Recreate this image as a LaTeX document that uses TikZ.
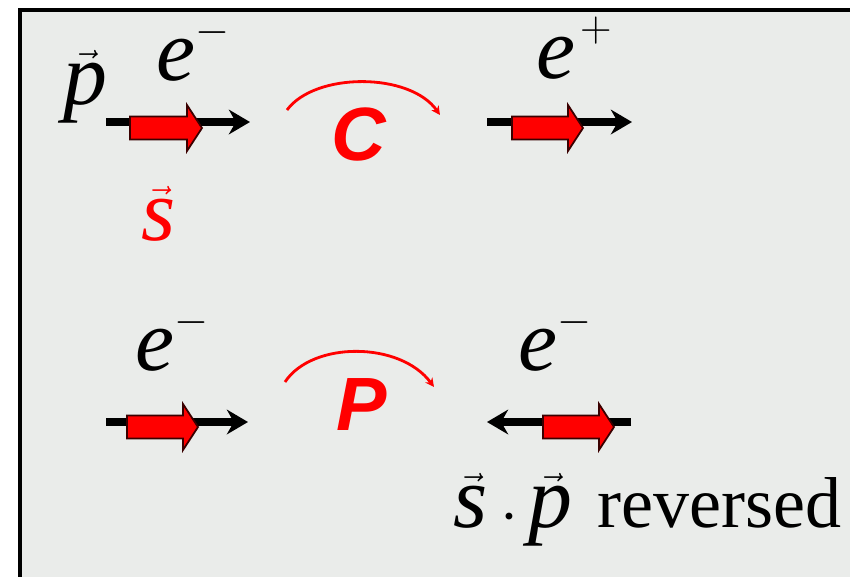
\documentclass[tikz,border=0pt]{standalone}
\usepackage{amsmath}
\usepackage{fontspec}
\usepackage{tikz}
\usetikzlibrary{arrows.meta, calc}
\setmainfont{Liberation Serif}
\setsansfont{Liberation Sans}
\definecolor{Panel_Gray}{HTML}{EAECEA}
\definecolor{Spin_Red}{HTML}{FF0000}
\definecolor{Spin_Edge}{HTML}{3A0000}
\newcommand{\ital}[1]{\text{\itshape #1}}
\newcommand{\chg}[1]{^{\raisebox{0.14em}{$\scriptstyle#1$}}}

\begin{document}
\begin{tikzpicture}[x=0.02cm, y=-0.02cm,
  mom/.style={line width=5pt, black, -{Stealth[length=12pt, width=14pt]}},
  spin/.style={fill=Spin_Red, draw=Spin_Edge, line width=1pt, line join=miter},
  swap/.style={Spin_Red, line width=1.6pt, -{Stealth[length=5pt, width=5pt]}},
  sym/.style={inner sep=0pt, anchor=base west, font=\fontsize{50}{56}\selectfont},
  op/.style={Spin_Red, inner sep=0pt, font=\sffamily\bfseries\itshape\fontsize{43}{48}\selectfont}
]
  \useasboundingbox (0,0) rectangle (850,576);
  \clip (0,0) rectangle (850,576);
  \fill[white] (0,0) rectangle (850,576);
  % panel
  \filldraw[fill=Panel_Gray, draw=black, line width=2.3pt] (20,10) rectangle (900,620);

  % C: electron -> positron
  \node[sym] (pvec) at (63,104) {$\vec{\ital{p}}$};
  \node[sym] (eIn) at (156,80) {$\ital{e}\chg{-}$};
  \node[sym, Spin_Red] (svec) at (141,240) {$\vec{\ital{s}}$};
  \coordinate (cInT) at (106,122);
  \coordinate (cInH) at (250,122);
  \draw[mom] (cInT) -- (cInH);
  \coordinate (cInS) at (130,128);
  \filldraw[spin] (cInS) ++(0,-11.5) -- ++(57,0) -- ++(0,-11.5) -- ++(15,23)
    -- ++(-15,23) -- ++(0,-11.5) -- ++(-57,0) -- cycle;

  \coordinate (cArcA) at (287,110);
  \coordinate (cArcB) at (440,115);
  \draw[swap] (cArcA) .. controls (315,72) and (410,72) .. (cArcB);
  \node[op] (cOp) at (359,134) {C};

  \node[sym] (eOut) at (536,78) {$\ital{e}\chg{\mkern2mu+}$};
  \coordinate (cOutT) at (487,122);
  \coordinate (cOutH) at (632,122);
  \draw[mom] (cOutT) -- (cOutH);
  \coordinate (cOutS) at (512,128);
  \filldraw[spin] (cOutS) ++(0,-11.5) -- ++(56,0) -- ++(0,-11.5) -- ++(15,23)
    -- ++(-15,23) -- ++(0,-11.5) -- ++(-56,0) -- cycle;

  % P: momentum flips, spin stays
  \node[sym] (eL) at (135,370) {$\ital{e}\chg{-}$};
  \coordinate (pInT) at (106,422);
  \coordinate (pInH) at (248,422);
  \draw[mom] (pInT) -- (pInH);
  \coordinate (pInS) at (127,427);
  \filldraw[spin] (pInS) ++(0,-11.5) -- ++(56,0) -- ++(0,-11.5) -- ++(15,23)
    -- ++(-15,23) -- ++(0,-11.5) -- ++(-56,0) -- cycle;

  \coordinate (pArcA) at (285,382);
  \coordinate (pArcB) at (434,387);
  \draw[swap] (pArcA) .. controls (312,341) and (400,341) .. (pArcB);
  \node[op] (pOp) at (362,405) {P};

  \node[sym] (eR) at (518,370) {$\ital{e}\chg{-}$};
  \coordinate (pOutT) at (631,422);
  \coordinate (pOutH) at (487,422);
  \draw[mom] (pOutT) -- (pOutH);
  \coordinate (pOutS) at (543,427);
  \filldraw[spin] (pOutS) ++(0,-11.5) -- ++(56,0) -- ++(0,-11.5) -- ++(15,23)
    -- ++(-15,23) -- ++(0,-11.5) -- ++(-56,0) -- cycle;

  \node[inner sep=0pt, anchor=base west, font=\fontsize{41}{46}\selectfont] (flip)
    at (453,527) {{\fontsize{50}{56}\selectfont$\vec{\ital{s}}\mkern6mu\mathord{\boldsymbol{\cdot}}\mkern5mu\vec{\ital{p}}$}\hspace{4pt} reversed};
\end{tikzpicture}
\end{document}
